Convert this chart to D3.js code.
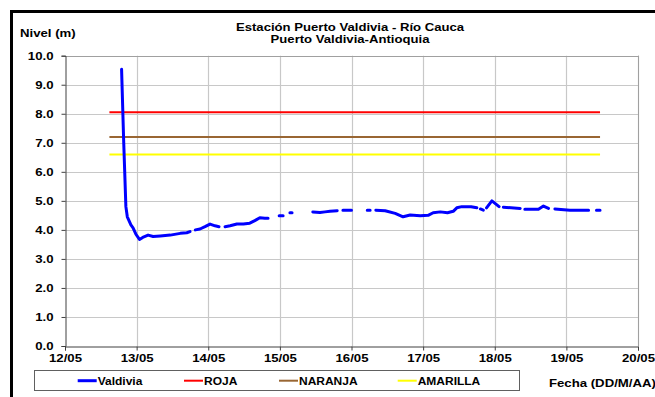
<!DOCTYPE html>
<html><head><meta charset="utf-8">
<script src="https://cdn.jsdelivr.net/npm/d3@7/dist/d3.min.js"></script>
<style>
html,body{margin:0;padding:0;background:#fff;overflow:hidden}
text{font-family:Arial,"Liberation Sans",sans-serif;font-weight:bold;fill:#000}
</style></head>
<body>
<svg id="c" width="655" height="397"></svg>
<script>
// ---- data ----
const title1 = "Estación Puerto Valdivia - Río Cauca";
const title2 = "Puerto Valdivia-Antioquia";
const yLabel = "Nivel (m)";
const xLabel = "Fecha (DD/M/AA)";
const xTickLabels = ["12/05","13/05","14/05","15/05","16/05","17/05","18/05","19/05","20/05"];
const xTickValues = [12,13,14,15,16,17,18,19,20];
const yTickValues = [0,1,2,3,4,5,6,7,8,9,10];
// day-of-month (decimal), nivel (m); null = gap in record
const valdiviaDay = [12.79,12.82,12.85,12.87,12.92,12.95,12.99,13.04,13.085,13.16,13.23,13.33,13.47,13.61,13.70,13.745,null,
  13.82,13.885,13.955,14.025,14.095,14.15,null,
  14.235,14.305,14.40,14.49,14.58,14.65,14.72,14.79,14.835,null,
  14.99,15.045,null,15.14,15.17,null,
  15.46,15.56,15.63,15.70,15.80,null,15.88,16.00,null,16.22,16.26,null,
  16.34,16.47,16.61,16.72,16.82,16.96,17.07,17.14,17.24,17.34,17.42,17.47,17.54,17.67,17.75,null,
  17.80,17.84,null,17.885,17.96,18.03,18.06,null,18.12,18.355,null,
  18.42,18.61,18.68,18.75,null,18.84,19.05,19.31,null,19.42,19.47];
const valdiviaNivel = [9.53,7.0,4.8,4.45,4.17,4.07,3.85,3.67,3.74,3.82,3.77,3.79,3.82,3.88,3.90,3.94,null,
  4.00,4.03,4.11,4.20,4.14,4.11,null,
  4.11,4.14,4.20,4.20,4.23,4.32,4.42,4.40,4.40,null,
  4.49,4.49,null,4.59,4.59,null,
  4.62,4.60,4.62,4.64,4.66,null,4.68,4.68,null,4.68,4.68,null,
  4.68,4.66,4.57,4.45,4.51,4.49,4.50,4.59,4.62,4.59,4.64,4.76,4.80,4.80,4.76,null,
  4.72,4.68,null,4.76,5.00,4.86,4.80,null,4.78,4.74,null,
  4.71,4.71,4.82,4.74,null,4.72,4.68,4.68,null,4.68,4.68];
const thresholdNames = ["ROJA","NARANJA","AMARILLA"];
const thresholdValues = [8.05,7.2,6.6];
const thresholdColors = ["#ff0000","#996633","#ffff00"];
const thresholdSpan = [12.62,19.47];
const seriesName = "Valdivia";
const seriesColor = "#0000ff";

// ---- layout ----
const SX = 1.2; // horizontal stretch of the original text
const svg = d3.select("#c");
const m = {l:65, r:638, t:55.7, b:346};
const x = d3.scaleLinear().domain([12,20]).range([m.l,m.r]);
const y = d3.scaleLinear().domain([0,10]).range([m.b,m.t]);

function txt(px,py,s,size,anchor,sx){
  return svg.append("text").attr("transform",`translate(${px},${py}) scale(${sx||SX},1)`)
    .attr("text-anchor",anchor||"start").attr("font-size",size).text(s);
}

// outer frame
svg.append("rect").attr("x",11.5).attr("y",11.5).attr("width",700).attr("height",420)
  .attr("fill","none").attr("stroke","#000").attr("stroke-width",3);

// gridlines
const g = svg.append("g");
g.selectAll(".hg").data(yTickValues.slice(1)).join("line")
  .attr("x1",m.l).attr("x2",m.r).attr("y1",d=>Math.round(y(d))+0.5).attr("y2",d=>Math.round(y(d))+0.5)
  .attr("stroke","#c8c8c8").attr("stroke-width",1.2);
g.selectAll(".vg").data(xTickValues.slice(1)).join("line")
  .attr("y1",m.t).attr("y2",m.b).attr("x1",d=>Math.round(x(d))+0.5).attr("x2",d=>Math.round(x(d))+0.5)
  .attr("stroke","#c8c8c8").attr("stroke-width",1.2);
svg.append("line").attr("x1",m.l).attr("x2",m.r).attr("y1",Math.round(m.t)+0.5).attr("y2",Math.round(m.t)+0.5).attr("stroke","#a0a0a0");
svg.append("line").attr("x1",Math.round(m.r)+0.5).attr("x2",Math.round(m.r)+0.5).attr("y1",m.t).attr("y2",m.b).attr("stroke","#a0a0a0");

// axes
const yAxis = d3.axisLeft(y).tickValues(yTickValues).tickFormat(d3.format(".1f")).tickSize(4);
const yg = svg.append("g").attr("transform",`translate(${Math.round(m.l)+0.5},0)`).call(yAxis);
const xAxis = d3.axisBottom(x).tickValues(xTickValues).tickFormat((d,i)=>xTickLabels[i]).tickSize(4);
const xg = svg.append("g").attr("transform",`translate(0,${Math.round(m.b)+0.5})`).call(xAxis);
[yg,xg].forEach(a=>{
  a.select(".domain").attr("stroke","#404040");
  a.selectAll(".tick line").attr("stroke","#404040");
  a.selectAll("text").attr("font-size",11).attr("font-family","Arial, 'Liberation Sans', sans-serif")
    .attr("font-weight","bold").attr("fill","#000").attr("transform",`scale(${SX},1)`);
});
yg.selectAll(".tick text").attr("x",-12/SX).attr("dy","0.36em");
xg.selectAll(".tick text").attr("y",8).attr("dy","0.71em");

// threshold lines
thresholdValues.forEach((v,i)=>{
  svg.append("line").attr("x1",x(thresholdSpan[0])).attr("x2",x(thresholdSpan[1]))
    .attr("y1",y(v)).attr("y2",y(v)).attr("stroke",thresholdColors[i]).attr("stroke-width",2);
});

// series
const pts = valdiviaDay.map((d,i)=>[d,valdiviaNivel[i]]);
const line = d3.line().defined(d=>d[0]!==null && d[1]!==null).x(d=>x(d[0])).y(d=>y(d[1]));
svg.append("path").datum(pts).attr("d",line).attr("fill","none")
  .attr("stroke",seriesColor).attr("stroke-width",3).attr("stroke-linejoin","round").attr("stroke-linecap","round");

// titles
txt(350,30.5,title1,10.5,"middle",1.25);
txt(350,42.5,title2,10.5,"middle",1.25);
txt(20,37,yLabel,11);
txt(549,387,xLabel,11);

// legend
svg.append("rect").attr("x",34.5).attr("y",370.5).attr("width",485).attr("height",20)
  .attr("fill","#fff").attr("stroke","#606060").attr("stroke-width",1);
const legItems = [{n:seriesName,c:seriesColor,x:77.7,w:3},
  {n:thresholdNames[0],c:thresholdColors[0],x:184,w:2},
  {n:thresholdNames[1],c:thresholdColors[1],x:279,w:2},
  {n:thresholdNames[2],c:thresholdColors[2],x:397.7,w:2}];
legItems.forEach(it=>{
  svg.append("line").attr("x1",it.x).attr("x2",it.x+19).attr("y1",380.7).attr("y2",380.7)
    .attr("stroke",it.c).attr("stroke-width",it.w);
  txt(it.x+20,384.5,it.n,10);
});
</script>
</body></html>
